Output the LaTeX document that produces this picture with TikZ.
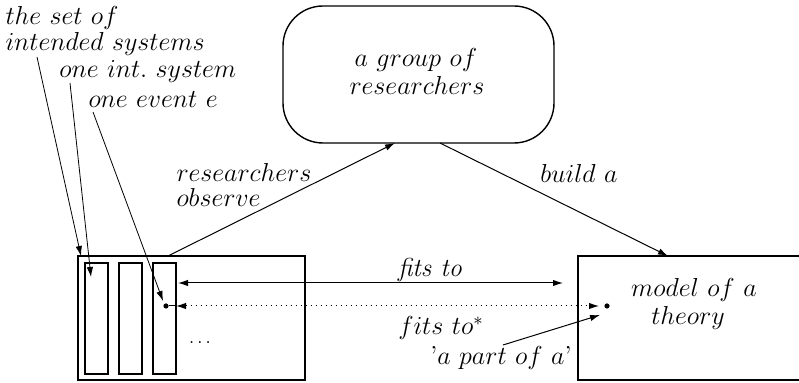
\RequirePackage{fix-cm}
\documentclass[tikz,border=0pt]{standalone}
\usetikzlibrary{arrows.meta}
\begin{document}
\begin{tikzpicture}[x=0.5pt,y=-0.5pt,line width=0.5pt,
  box/.style={draw,line width=0.7pt,inner sep=0pt},
  slot/.style={draw,line width=0.7pt,inner sep=0pt,minimum width=11.5pt,minimum height=55.5pt},
  lbl/.style={font=\fontsize{13}{15}\selectfont,inner sep=0pt},
  dotn/.style={circle,fill,inner sep=0pt,minimum size=2.6pt},
  arr/.style={-{Latex[length=5pt,width=3.2pt]}},
  darr/.style={{Latex[length=5pt,width=3.2pt]}-{Latex[length=5pt,width=3.2pt]}}]
\useasboundingbox (0,0) rectangle (799,383);
% boxes
\node[box,minimum width=135.5pt,minimum height=68.5pt,rounded corners=20pt] (grp) at (418.5,74.5) {};
\node[box,minimum width=113.5pt,minimum height=62pt] (lb) at (191.5,318) {};
\node[box,minimum width=126pt,minimum height=62pt] (rb) at (704,318) {};
\node[slot] (s1) at (96.5,318.5) {};
\node[slot] (s2) at (130.5,318.5) {};
\node[slot] (s3) at (164.5,318.5) {};
\node[dotn] (ed) at (166,306) {};
\node[dotn] (md) at (607,306) {};
% texts
\node[lbl,anchor=west] (t1) at (5,18) {$the\ set\ of$};
\node[lbl,anchor=west] (t2) at (5,44) {$intended\ systems$};
\node[lbl,anchor=west] (t3) at (59,72) {$one\ int.\ system$};
\node[lbl,anchor=west] (t4) at (88,100) {$one\ event\ e$};
\node[lbl] (g1) at (416,60) {$a\ group\ of$};
\node[lbl] (g2) at (417,85) {$researchers$};
\node[lbl,anchor=west] (o1) at (176,172) {$researchers$};
\node[lbl,anchor=west] (o2) at (176,197) {$observe$};
\node[lbl] (ba) at (579,173) {$build\ a$};
\node[lbl] (ft) at (430,270) {\itshape fits to};
\node[lbl] (fs) at (441,328) {$fits\ to^*$};
\node[lbl] (pa) at (501,358) {\mbox{'}$a\ part\ of\ a$\mbox{'}};
\node[lbl] (m1) at (694,290) {$model\ of\ a$};
\node[lbl] (m2) at (688,318) {$theory$};
\node[inner sep=0pt,font=\small] (dd) at (200,343) {$\ldots$};
% connector end points
\coordinate (obsA) at (168,256);
\coordinate (obsB) at (395,143);
\coordinate (bldA) at (440,143);
\coordinate (bldB) at (668,256);
\coordinate (fitA) at (178,283);
\coordinate (fitB) at (563,283);
\coordinate (dotA) at (176,306);
\coordinate (dotB) at (599,306);
\coordinate (paA) at (503,345);
\coordinate (paB) at (600,315);
\coordinate (l1a) at (37,57);
\coordinate (l1b) at (81,256);
\coordinate (l2a) at (70,83);
\coordinate (l2b) at (91,277);
\coordinate (l3a) at (93,112);
\coordinate (l3b) at (163,301);
% connectors
\draw[arr] (obsA) -- (obsB);
\draw[arr] (bldA) -- (bldB);
\draw[darr] (fitA) -- (fitB);
\draw[darr,dotted] (dotA) -- (dotB);
\draw (ed) -- (dotA);
\draw[arr] (paA) -- (paB);
\draw[arr,line width=0.4pt] (l1a) -- (l1b);
\draw[arr,line width=0.4pt] (l2a) -- (l2b);
\draw[arr,line width=0.4pt] (l3a) -- (l3b);
\end{tikzpicture}
\end{document}
